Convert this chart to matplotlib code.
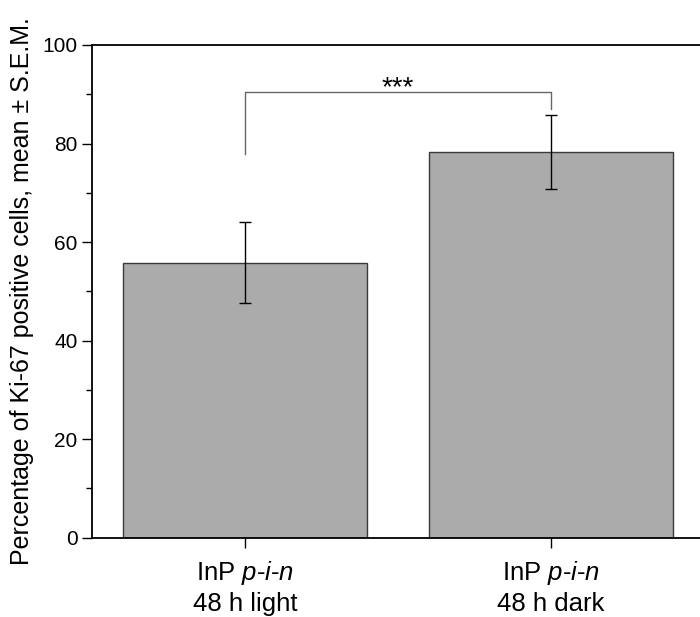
import matplotlib
matplotlib.use('Agg')
import matplotlib.pyplot as plt

plt.rcParams['font.family'] = ['Liberation Sans', 'DejaVu Sans']
plt.rcParams['mathtext.fontset'] = 'custom'
plt.rcParams['mathtext.rm'] = 'Liberation Sans'
plt.rcParams['mathtext.it'] = 'Liberation Sans:italic'

# data
groups = ['InP $p$-$i$-$n$\n48 h light', 'InP $p$-$i$-$n$\n48 h dark']
means = [55.8, 78.3]
sem = [8.2, 7.5]
# significance bracket: top, left leg end, right leg end
bracket_top = 90.5
bracket_ends = [77.8, 87.1]
sig_label = '***'

fig = plt.figure(figsize=(7, 6.17), dpi=100)
ax = fig.add_axes([92/700, (617-537.7)/617, 612/700, (537.7-45)/617])

x = list(range(len(groups)))
ax.bar(x, means, width=0.8, color='#ababab', edgecolor='#3a3a3a', linewidth=1.0, zorder=2)
ax.errorbar(x, means, yerr=sem, fmt='none', ecolor='black', elinewidth=1.0,
            capsize=4, capthick=1.0, zorder=3)

# bracket
ax.plot([x[0], x[0], x[1], x[1]],
        [bracket_ends[0], bracket_top, bracket_top, bracket_ends[1]],
        color='#666666', lw=1.0, zorder=3)
ax.text((x[0] + x[1]) / 2, bracket_top - 0.6, sig_label, ha='center', va='baseline',
        fontsize=20, color='black')

ax.set_xlim(-0.5, 1.5)
ax.set_ylim(0, 100)
ax.set_xticks(x)
ax.set_xticklabels(groups, fontsize=18.5, linespacing=1.3)
ax.set_yticks([0, 20, 40, 60, 80, 100])
ax.set_yticks([10, 30, 50, 70, 90], minor=True)
ax.tick_params(axis='y', which='major', length=7, width=1.0, labelsize=15, direction='out')
ax.tick_params(axis='y', which='minor', length=4, width=1.0, direction='out')
ax.tick_params(axis='x', which='major', length=7, width=1.0, direction='out', pad=8)
ax.tick_params(axis='x', which='minor', bottom=False)
for s in ['left', 'bottom', 'top']:
    ax.spines[s].set_linewidth(1.3)
ax.spines['right'].set_visible(False)

ax.set_ylabel('Percentage of Ki-67 positive cells, mean \u00b1 S.E.M.', fontsize=18, labelpad=6)

fig.savefig('out.png', dpi=100)
